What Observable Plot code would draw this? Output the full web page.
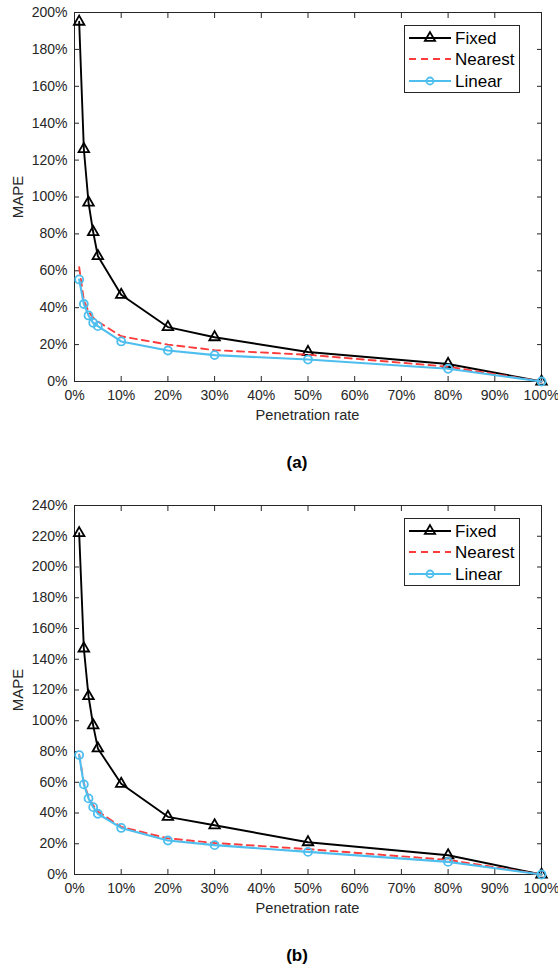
<!DOCTYPE html>
<html>
<head>
<meta charset="utf-8">
<script src="https://cdn.jsdelivr.net/npm/d3@7"></script>
<script src="https://cdn.jsdelivr.net/npm/@observablehq/plot@0.6"></script>
<style>
  body { margin: 0; background: #fff; font-family: "Liberation Sans", Arial, sans-serif; }
  #wrap { position: relative; width: 558px; height: 965px; overflow: hidden; }
  .panel { position: absolute; left: 0; }
  .txt { position: absolute; transform: translate(-50%, -50%); line-height: 1; white-space: nowrap; color: #262626; }
  .xlab { font-size: 14.6px; }
  .ylab { font-size: 15px; transform: translate(-50%, -50%) rotate(-90deg); }
  .cap { font-size: 17px; font-weight: bold; color: #000; }
  .legend { position: absolute; width: 114px; height: 66px; border: 1px solid #262626; background: #fff; }
  .legend svg { display: block; }
</style>
</head>
<body>
<div id="wrap"></div>
<script>
// ---- data ----
const rates = [1, 2, 3, 4, 5, 10, 20, 30, 50, 80, 100];
const seriesNames = ["Fixed", "Nearest", "Linear"];
// Panel (a)
const fixedA   = [195, 126, 97, 81, 68, 47, 29.5, 24, 16, 9.5, 0];
const nearestA = [62, 44, 38, 34.5, 32.5, 24.5, 20, 17, 14.5, 8, 0];
const linearA  = [55.3, 42, 35.8, 31.8, 30, 21.7, 16.8, 14.3, 11.9, 6.9, 0];
// Panel (b)
const fixedB   = [222, 147, 116, 97, 82, 59, 37.5, 32, 21, 12.5, 0];
const nearestB = [78, 59.5, 50.5, 45, 41, 31, 23.5, 20.5, 16.5, 9.5, 0];
const linearB  = [77.7, 58.6, 49.5, 43.8, 39.5, 30.3, 22.1, 19.1, 14.7, 8.2, 0];
// ticks
const xTicks  = [0, 10, 20, 30, 40, 50, 60, 70, 80, 90, 100];
const yTicksA = [0, 20, 40, 60, 80, 100, 120, 140, 160, 180, 200];
const yTicksB = [0, 20, 40, 60, 80, 100, 120, 140, 160, 180, 200, 220, 240];
const xLabel = "Penetration rate";
const yLabel = "MAPE";
const captions = ["(a)", "(b)"];

const BLACK = "#000000", RED = "#ff3c3c", BLUE = "#4dbeee", AXIS = "#262626";
const FONT = '"Liberation Sans", Arial, sans-serif';

function panel(fixed, nearest, linear, yTicks) {
  return Plot.plot({
    width: 558, height: 410,
    marginLeft: 74, marginRight: 17, marginTop: 12, marginBottom: 29,
    style: { fontFamily: FONT, fontSize: "14px", color: AXIS, background: "transparent", overflow: "visible" },
    x: { domain: [0, 100] },
    y: { domain: [0, d3.max(yTicks)] },
    marks: [
      Plot.frame({ stroke: AXIS, strokeWidth: 1 }),
      Plot.axisX(xTicks, { anchor: "bottom", tickSize: -5, tickPadding: 14, tickFormat: d => d + "%", label: null }),
      Plot.axisX(xTicks, { anchor: "top", tickSize: -5, tickFormat: () => "", label: null }),
      Plot.axisY(yTicks, { anchor: "left", tickSize: -5, tickPadding: 12, tickFormat: d => d + "%", label: null }),
      Plot.axisY(yTicks, { anchor: "right", tickSize: -5, tickFormat: () => "", label: null }),
      Plot.line(rates, { x: rates, y: fixed, stroke: BLACK, strokeWidth: 1.9 }),
      Plot.dot(rates, { x: rates, y: fixed, symbol: "triangle", r: 3.9, stroke: BLACK, strokeWidth: 1.8, fill: "none" }),
      Plot.line(rates, { x: rates, y: nearest, stroke: RED, strokeWidth: 1.9, strokeDasharray: "7,5" }),
      Plot.line(rates, { x: rates, y: linear, stroke: BLUE, strokeWidth: 2.1 }),
      Plot.dot(rates, { x: rates, y: linear, symbol: "circle", r: 4, stroke: BLUE, strokeWidth: 1.8, fill: "none" })
    ]
  });
}

function legendHTML() {
  const rows = [12, 33, 55];
  const tri = d3.symbol(d3.symbolTriangle, Math.PI * 3.8 * 3.8)();
  return `<svg width="114" height="66" font-family='${FONT}' font-size="17">
    <line x1="4" x2="46" y1="${rows[0]}" y2="${rows[0]}" stroke="${BLACK}" stroke-width="1.9"/>
    <path d="${tri}" transform="translate(25,${rows[0]})" fill="none" stroke="${BLACK}" stroke-width="1.8"/>
    <text x="50" y="${rows[0]}" dy="0.36em" fill="#000">${seriesNames[0]}</text>
    <line x1="4" x2="46" y1="${rows[1]}" y2="${rows[1]}" stroke="${RED}" stroke-width="1.9" stroke-dasharray="7,5"/>
    <text x="50" y="${rows[1]}" dy="0.36em" fill="#000">${seriesNames[1]}</text>
    <line x1="4" x2="46" y1="${rows[2]}" y2="${rows[2]}" stroke="${BLUE}" stroke-width="2.1"/>
    <circle cx="25" cy="${rows[2]}" r="3.5" fill="none" stroke="${BLUE}" stroke-width="1.8"/>
    <text x="50" y="${rows[2]}" dy="0.36em" fill="#000">${seriesNames[2]}</text>
  </svg>`;
}

const wrap = document.getElementById("wrap");
const panels = [
  { data: [fixedA, nearestA, linearA], ticks: yTicksA, top: 0 },
  { data: [fixedB, nearestB, linearB], ticks: yTicksB, top: 493 }
];
panels.forEach((p, i) => {
  const svg = panel(p.data[0], p.data[1], p.data[2], p.ticks);
  svg.classList.add("panel");
  svg.style.top = p.top + "px";
  wrap.appendChild(svg);

  const yl = document.createElement("div");
  yl.className = "txt ylab"; yl.textContent = yLabel;
  yl.style.left = "17px"; yl.style.top = (p.top + 196.5) + "px";
  wrap.appendChild(yl);

  const xl = document.createElement("div");
  xl.className = "txt xlab"; xl.textContent = xLabel;
  xl.style.left = "307.5px"; xl.style.top = (p.top + 415) + "px";
  wrap.appendChild(xl);

  const cp = document.createElement("div");
  cp.className = "txt cap"; cp.textContent = captions[i];
  cp.style.left = "297px"; cp.style.top = (p.top + 462) + "px";
  wrap.appendChild(cp);

  const lg = document.createElement("div");
  lg.className = "legend";
  lg.style.left = "404px"; lg.style.top = (p.top + 25) + "px";
  lg.innerHTML = legendHTML();
  wrap.appendChild(lg);
});
</script>
</body>
</html>
